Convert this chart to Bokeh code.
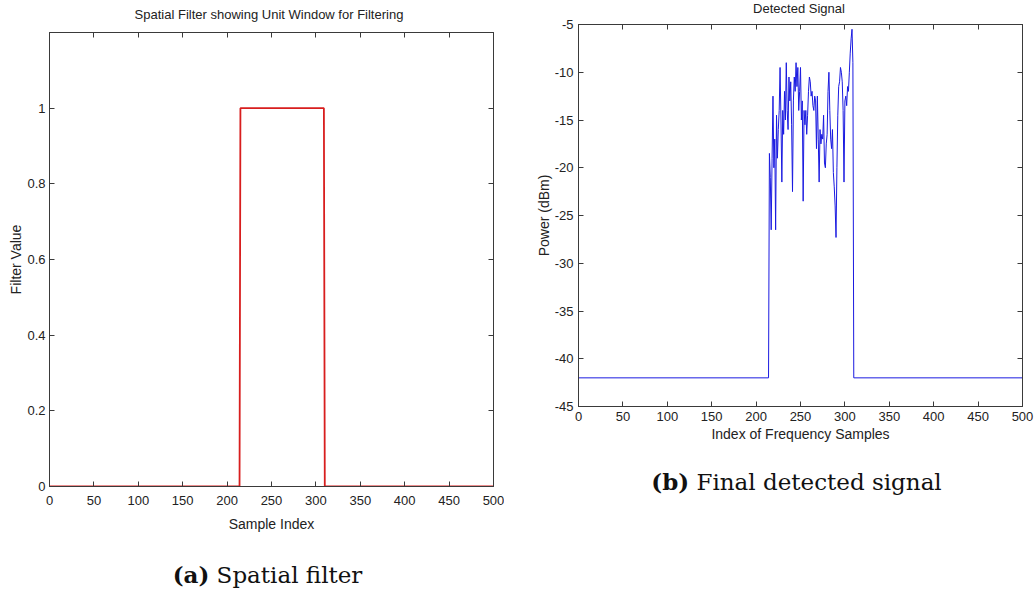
from bokeh.plotting import figure
from bokeh.models import Range1d, LinearAxis, FixedTicker, Div
from bokeh.layouts import row, column
from bokeh.embed import file_html
from bokeh.resources import INLINE

FONT = "Liberation Sans"
SERIF = "DejaVu Serif"
AXIS_COLOR = "#3a3a3a"

# ---- data ----
x_ticks = [0, 50, 100, 150, 200, 250, 300, 350, 400, 450, 500]
filter_ticks = [0, 0.2, 0.4, 0.6, 0.8, 1.0]
filter_tick_labels = ["0", "0.2", "0.4", "0.6", "0.8", "1"]
power_ticks = [-45, -40, -35, -30, -25, -20, -15, -10, -5]
power_tick_labels = ["-45", "-40", "-35", "-30", "-25", "-20", "-15", "-10", "-5"]

# spatial filter (unit window)
filter_x = [0, 214, 215, 309, 310, 500]
filter_y = [0, 0, 1, 1, 0, 0]

# detected signal
noise_floor = -42
band_first = 215
band_power = [
    -18.5, -21, -26.5, -19, -12.5, -20, -17, -26.5, -14.5, -19,
    -16, -14, -9.5, -15, -21.5, -14, -16.5, -12, -15, -9,
    -14, -16, -10.5, -13, -11, -15.5, -22.5, -13, -10.5, -12,
    -9, -11.5, -9.5, -14, -12, -9.5, -15, -13, -23.5, -14,
    -15.5, -14, -16.5, -14.5, -12, -10.5, -11, -12.5, -12, -13.5,
    -14, -12.5, -13, -18, -12.5, -17, -21.5, -16, -17.5, -16.5,
    -17, -14.5, -19.5, -20, -17.5, -16.5, -12, -10, -14, -17,
    -18, -16, -20.5, -22, -24, -27.3, -20, -14.5, -11.5, -11,
    -9.5, -10, -11, -14, -21.5, -13, -12.5, -13.5, -11.5, -12,
    -10, -8, -6.5, -5.5, -9,
]
band_x = [band_first + i for i in range(len(band_power))]
signal_x = [0, band_first - 1] + band_x + [band_x[-1] + 1, 500]
signal_y = [noise_floor, noise_floor] + band_power + [noise_floor, noise_floor]


def style_axis(ax, ticks):
    ax.ticker = FixedTicker(ticks=ticks)
    ax.major_tick_in = 5
    ax.major_tick_out = 0
    ax.minor_tick_line_color = None
    ax.axis_line_color = AXIS_COLOR
    ax.major_tick_line_color = AXIS_COLOR
    ax.major_label_text_font = FONT
    ax.major_label_text_font_size = "13px"
    ax.major_label_text_color = "#222222"
    ax.axis_label_text_font = FONT
    ax.axis_label_text_font_size = "14px"
    ax.axis_label_text_font_style = "normal"
    ax.axis_label_text_color = "#222222"


def add_mirror_axes(p, xt, yt):
    top = LinearAxis(major_label_overrides={t: "" for t in xt})
    style_axis(top, xt)
    top.major_label_standoff = 0
    top.major_label_text_font_size = "0px"
    p.add_layout(top, "above")
    right = LinearAxis(major_label_overrides={t: "" for t in yt})
    style_axis(right, yt)
    right.major_label_standoff = 0
    right.major_label_text_font_size = "0px"
    p.add_layout(right, "right")


def base_fig(width, height, bl, br, bt, bb, xr, yr):
    p = figure(width=width, height=height, output_backend="svg", toolbar_location=None,
               x_range=xr, y_range=yr, min_border_left=bl, min_border_right=br,
               min_border_top=bt, min_border_bottom=bb)
    p.title = None
    p.xgrid.visible = False
    p.ygrid.visible = False
    p.outline_line_color = AXIS_COLOR
    p.background_fill_color = "white"
    p.border_fill_color = "white"
    return p


def title_div(text, width, height, pad_top, pad_left):
    html = (f'<div style="font-family:\'{FONT}\'; font-size:13px; color:#222; '
            f'text-align:center; width:{width - pad_left}px; margin-top:{pad_top}px; '
            f'margin-left:{pad_left}px; white-space:nowrap; line-height:15px;">{text}</div>')
    return Div(text=html, width=width, height=height, margin=0)


def caption(label, text, width, height, pad_top, pad_left):
    html = (f'<div style="font-family:\'{SERIF}\'; font-size:23px; color:#111; '
            f'text-align:center; width:{width - pad_left}px; margin-top:{pad_top}px; '
            f'margin-left:{pad_left}px; white-space:nowrap;">'
            f'<b>{label}</b>&nbsp;{text}</div>')
    return Div(text=html, width=width, height=height, margin=0)


# ---- left panel ----
t1 = title_div("Spatial Filter showing Unit Window for Filtering", 504, 24, 7, 34)
p1 = base_fig(504, 510, 49, 11, 8, 48, Range1d(0, 500), Range1d(0, 1.2))
p1.line(filter_x, filter_y, line_color="#d81e1e", line_width=1.8)
style_axis(p1.xaxis[0], x_ticks)
style_axis(p1.yaxis[0], filter_ticks)
p1.yaxis[0].major_label_overrides = {t: s for t, s in zip(filter_ticks, filter_tick_labels)}
p1.xaxis[0].axis_label = "Sample Index"
p1.yaxis[0].axis_label = "Filter Value"
p1.xaxis[0].major_label_standoff = 9
p1.yaxis[0].major_label_standoff = 4
p1.xaxis[0].axis_label_standoff = 8
p1.yaxis[0].axis_label_standoff = 0
add_mirror_axes(p1, x_ticks, filter_ticks)
cap1 = caption("(a)", "Spatial filter", 504, 58, 25, 31)

# ---- right panel ----
t2 = title_div("Detected Signal", 532, 18, 1, 58)
p2 = base_fig(532, 432, 74, 14, 6, 44, Range1d(0, 500), Range1d(-45, -5))
p2.line(signal_x, signal_y, line_color="#1a1ae0", line_width=1)
style_axis(p2.xaxis[0], x_ticks)
style_axis(p2.yaxis[0], power_ticks)
p2.yaxis[0].major_label_overrides = {t: s for t, s in zip(power_ticks, power_tick_labels)}
p2.xaxis[0].axis_label = "Index of Frequency Samples"
p2.yaxis[0].axis_label = "Power (dBm)"
p2.xaxis[0].major_label_standoff = 5
p2.yaxis[0].major_label_standoff = 5
p2.xaxis[0].axis_label_standoff = 2
p2.yaxis[0].axis_label_standoff = 0
add_mirror_axes(p2, x_ticks, power_ticks)
cap2 = caption("(b)", "Final detected signal", 532, 60, 16, 53)

layout = row(column(t1, p1, cap1), column(t2, p2, cap2))
open("out.html", "w").write(file_html(layout, INLINE))
